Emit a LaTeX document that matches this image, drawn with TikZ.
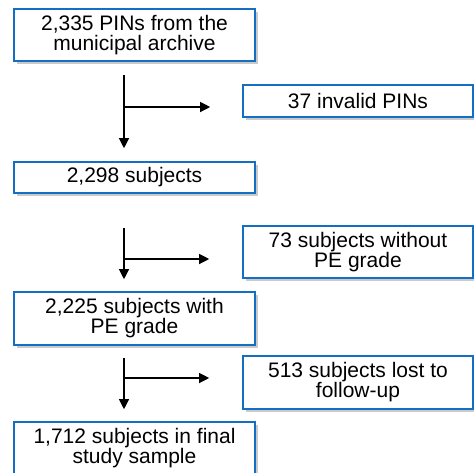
\documentclass[tikz,border=0pt]{standalone}
\usepackage{fontspec}
\setmainfont{Liberation Sans}
\usetikzlibrary{arrows.meta,calc,shadows}
\definecolor{boxblue}{RGB}{20,110,195}

\begin{document}
\begin{tikzpicture}[
  x=1pt,
  y=1pt,
  font=\fontsize{21}{20}\selectfont,
  >={Triangle[length=10pt,width=10pt]},
  stage/.style={draw=boxblue, line width=1.6pt, fill=white, align=center, inner sep=2pt,
    minimum width=241pt, drop shadow={shadow xshift=3pt, shadow yshift=-3pt, opacity=0.35, fill=black!60}},
  excl/.style={stage, minimum width=230pt},
  flow/.style={->, line width=1.2pt}
]
  \useasboundingbox (0,0) rectangle (474,-472);

  \node[stage, minimum height=52pt] (archive) at (134.5,-35) {2,335 PINs from the\\municipal archive};
  \node[stage, minimum height=31pt] (subjects) at (134.5,-177.5) {2,298 subjects};
  \node[stage, minimum height=53pt] (graded) at (134.5,-318.5) {2,225 subjects with\\PE grade};
  \node[stage, minimum height=53pt] (final) at (134.5,-448.5) {1,712 subjects in final\\study sample};

  \node[excl, minimum height=32pt] (invalid) at (358,-101) {37 invalid PINs};
  \node[excl, minimum height=52pt] (nograde) at (358,-252) {73 subjects without\\PE grade};
  \node[excl, minimum height=53pt] (lost) at (358,-382.5) {513 subjects lost to\\follow-up};

  \coordinate (split1) at (124,-107);
  \coordinate (split2) at (124,-259);
  \coordinate (split3) at (124,-378);

  \draw[flow, shorten <=13pt, shorten >=13pt] (archive.south -| split1) -- (subjects.north -| split1);
  \draw[flow, shorten >=32pt] (split1) -- (split1 -| invalid.west);

  \draw[flow, shorten <=34pt, shorten >=12pt] (subjects.south -| split2) -- (graded.north -| split2);
  \draw[flow, shorten >=33pt] (split2) -- (split2 -| nograde.west);

  \draw[flow, shorten <=12pt, shorten >=12pt] (graded.south -| split3) -- (final.north -| split3);
  \draw[flow, shorten >=33pt] (split3) -- (split3 -| lost.west);
\end{tikzpicture}
\end{document}
